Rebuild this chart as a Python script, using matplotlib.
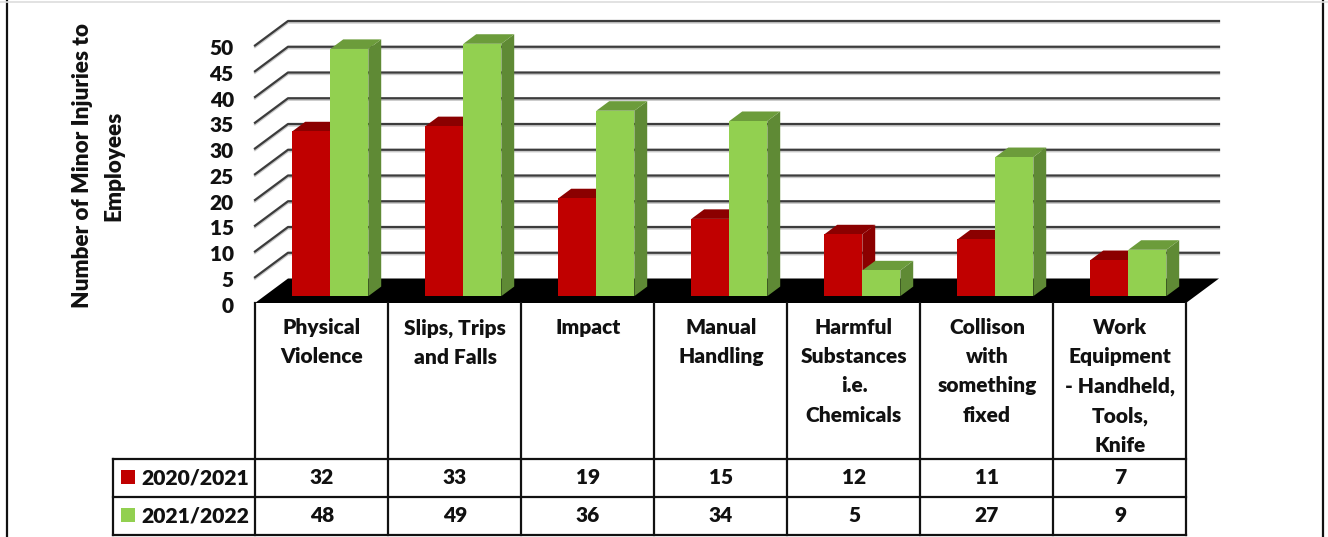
import matplotlib
matplotlib.use("Agg")
import matplotlib.pyplot as plt
from matplotlib.patches import Polygon, Rectangle

plt.rcParams['font.family'] = ['Lato', 'DejaVu Sans']
plt.rcParams['font.weight'] = 800

categories = ["Physical\nViolence", "Slips, Trips\nand Falls", "Impact", "Manual\nHandling",
              "Harmful\nSubstances\ni.e.\nChemicals", "Collison\nwith\nsomething\nfixed",
              "Work\nEquipment\n- Handheld,\nTools,\nKnife"]
series_names = ["2020/2021", "2021/2022"]
values_2021 = [32, 33, 19, 15, 12, 11, 7]
values_2022 = [48, 49, 36, 34, 5, 27, 9]
y_ticks = [0, 5, 10, 15, 20, 25, 30, 35, 40, 45, 50]

W, H = 1328, 537
fig = plt.figure(figsize=(W / 100, H / 100), dpi=100, facecolor='white')

# chart axes: x is category index, y is value, front floor edge at pixel row 303
left, right, floor_y, top_y = 255, 1186, 303, 45.5
ax = fig.add_axes([left / W, 1 - floor_y / H, (right - left) / W, (floor_y - top_y) / H])
ax.set_xlim(0, len(categories))
ax.set_ylim(0, 50)
ax.axis('off')

# depth offsets of the 3D box, in data units
DX = 33 / 133
DY = 24.5 / ((floor_y - top_y) / 50)


def proj(x, y, d):
    return (x + d * DX, y + d * DY)


# floor
n = len(categories)
ax.add_patch(Polygon([proj(0, 0, 0), proj(n, 0, 0), proj(n, 0, 1), proj(0, 0, 1)],
                     fc='black', ec='none', clip_on=False, zorder=1))

# gridlines on the back wall and left side
for t in y_ticks[1:]:
    xs = [proj(0, t, 0)[0], proj(0, t, 1)[0], proj(n, t, 1)[0]]
    ys = [proj(0, t, 0)[1], proj(0, t, 1)[1], proj(n, t, 1)[1]]
    ax.plot(xs, [v - 0.3 for v in ys], color='#c8c8c8', lw=1.6, clip_on=False, zorder=1)
    ax.plot(xs, ys, color='#3c3c3c', lw=1.6, clip_on=False, zorder=2)


def draw_bar(x0, w, v, front, top, side, z):
    d0, d1 = 0.28, 0.67
    ax.add_patch(Polygon([proj(x0 + w, 0, d0), proj(x0 + w, 0, d1), proj(x0 + w, v, d1), proj(x0 + w, v, d0)],
                         fc=side, ec='none', clip_on=False, zorder=z))
    ax.add_patch(Polygon([proj(x0, v, d0), proj(x0 + w, v, d0), proj(x0 + w, v, d1), proj(x0, v, d1)],
                         fc=top, ec='none', clip_on=False, zorder=z))
    ax.add_patch(Polygon([proj(x0, 0, d0), proj(x0 + w, 0, d0), proj(x0 + w, v, d0), proj(x0, v, d0)],
                         fc=front, ec='none', clip_on=False, zorder=z + 0.1))


bar_w = 38 / 133
for i in range(n):
    x0 = i + 0.497 - bar_w
    draw_bar(x0, bar_w, values_2021[i], '#C00000', '#8B0000', '#8B0000', 3 + i)
    draw_bar(x0 + bar_w, bar_w, values_2022[i], '#92D050', '#6C9C3B', '#5F8A35', 3.2 + i)

# tick labels, nudged down a little against the front edge
for t in y_ticks:
    ax.text(-0.16, t - 0.6, str(t), ha='right', va='center', fontsize=15, color='#111111', clip_on=False)

# overlay in pixel coordinates for the data table and frame
tab = fig.add_axes([0, 0, 1, 1], zorder=49)
tab.set_xlim(0, W)
tab.set_ylim(H, 0)
tab.axis('off')
tab.patch.set_alpha(0)

# frame
tab.plot([7, 7], [0, H], color='#111111', lw=1.6)
tab.plot([1323, 1323], [0, H], color='#111111', lw=1.6)
tab.plot([0, W], [2, 2], color='#dddddd', lw=1.2)

col_x = [left + 133 * i for i in range(n + 1)]
row_y = [303, 459, 497, 535]
for x in col_x:
    tab.plot([x, x], [row_y[0], row_y[-1]], color='#111111', lw=1.6)
tab.plot([113, 113], [row_y[1], row_y[3]], color='#111111', lw=1.6)
for y in row_y[1:]:
    tab.plot([113, right], [y, y], color='#111111', lw=1.6)

for i, cat in enumerate(categories):
    cx = col_x[i] + 67
    tab.text(cx, 318, cat, ha='center', va='top', fontsize=15, linespacing=1.64, color='#111111')
    tab.text(cx, 478, str(values_2021[i]), ha='center', va='center', fontsize=15, color='#111111')
    tab.text(cx, 516, str(values_2022[i]), ha='center', va='center', fontsize=15, color='#111111')

# legend keys in the first table column
for name, col, y in zip(series_names, ['#C00000', '#92D050'], [477, 515]):
    tab.add_patch(Rectangle((121, y - 7), 14, 14, fc=col, ec='none'))
    tab.text(141, y + 1, name, ha='left', va='center', fontsize=15.2, color='#111111')

tab.text(98, 166, "Number of Minor Injuries to\nEmployees", rotation=90, ha='center', va='center',
         fontsize=16.2, linespacing=1.6, multialignment='center', color='#111111')

fig.savefig('out.png', dpi=100)
